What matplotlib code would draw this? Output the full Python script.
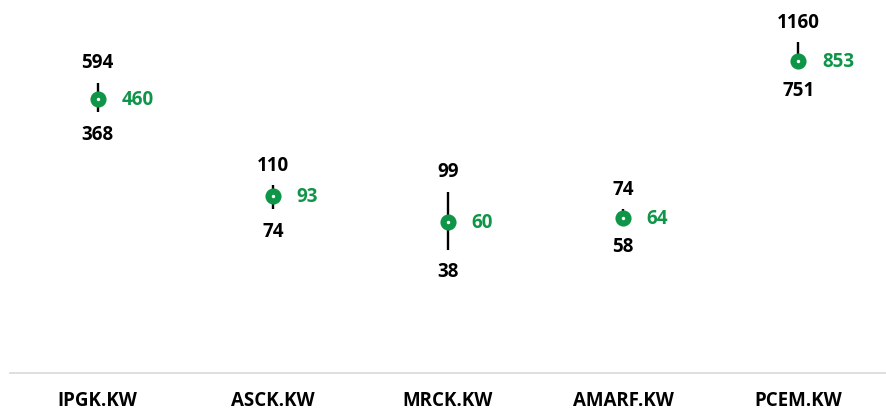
import matplotlib.pyplot as plt

# Data (high / low / current)
tickers = ['IPGK.KW', 'ASCK.KW', 'MRCK.KW', 'AMARF.KW', 'PCEM.KW']
high = [594, 110, 99, 74, 1160]
low = [368, 74, 38, 58, 751]
current = [460, 93, 60, 64, 853]

green = '#0F9548'
plt.rcParams['font.family'] = ['Open Sans', 'DejaVu Sans']
fs = 13.5

fig = plt.figure(figsize=(8.86, 4.10), dpi=100)
ax = fig.add_axes([10 / 886, 36 / 410, 876 / 886, 374 / 410])

x = list(range(len(tickers)))
ax.vlines(x, low, high, color='black', linewidth=1.7, zorder=2)
ax.scatter(x, current, s=135, color=green, zorder=3, linewidths=0)
ax.scatter(x, current, s=6, color='white', zorder=4, linewidths=0)

for i in x:
    ax.annotate(str(high[i]), (i, high[i]), xytext=(0, 15), textcoords='offset points',
                ha='center', va='center', fontsize=fs, fontweight='bold', color='black')
    ax.annotate(str(low[i]), (i, low[i]), xytext=(0, -15.5), textcoords='offset points',
                ha='center', va='center', fontsize=fs, fontweight='bold', color='black')
    ax.annotate(str(current[i]), (i, current[i]), xytext=(17, 0), textcoords='offset points',
                ha='left', va='center', fontsize=fs, fontweight='bold', color=green)

ax.set_yscale('log')
ax.set_ylim(5.0, 2370)
ax.set_xlim(-0.5, len(tickers) - 0.5)
ax.set_xticks(x)
ax.set_xticklabels(tickers, fontsize=fs, fontweight='bold')
ax.tick_params(axis='x', length=0, pad=12)
ax.set_yticks([])
ax.minorticks_off()
ax.tick_params(axis='y', which='both', left=False, labelleft=False)
for s in ['top', 'left', 'right']:
    ax.spines[s].set_visible(False)
ax.spines['bottom'].set_color('#D9D9D9')
ax.spines['bottom'].set_linewidth(1.2)

plt.savefig('out.png', dpi=100)
plt.close()
